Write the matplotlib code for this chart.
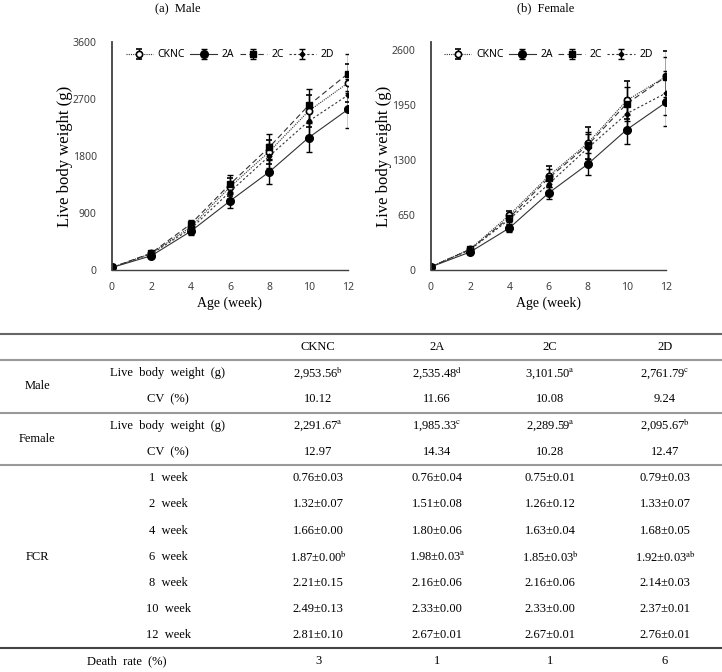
import numpy as np
import matplotlib.pyplot as plt

plt.rcParams['mathtext.fontset'] = 'stix'

# ---- chart data ----
weeks = [0, 2, 4, 6, 8, 10, 12]
groups = ['CKNC', '2A', '2C', '2D']

male_cknc = [40, 262, 680, 1310, 1870, 2510, 2953.56]
male_2a = [40, 225, 610, 1090, 1550, 2090, 2535.48]
male_2c = [40, 268, 725, 1355, 1940, 2600, 3101.50]
male_2d = [40, 255, 650, 1235, 1800, 2350, 2761.79]
male_cknc_sd = [3, 20, 60, 135, 190, 250, 299]
male_2a_sd = [3, 20, 60, 115, 195, 230, 296]
male_2c_sd = [3, 20, 60, 145, 205, 260, 313]
male_2d_sd = [3, 20, 60, 125, 185, 240, 255]

female_cknc = [38, 248, 650, 1111, 1501, 2009, 2291.67]
female_2a = [38, 213, 497, 910, 1253, 1663, 1985.33]
female_2c = [38, 245, 620, 1087, 1478, 1970, 2289.59]
female_2d = [38, 240, 600, 1016, 1442, 1852, 2095.67]
female_cknc_sd = [3, 20, 50, 118, 189, 225, 297]
female_2a_sd = [3, 20, 45, 71, 130, 174, 285]
female_2c_sd = [3, 20, 50, 110, 160, 200, 235]
female_2d_sd = [3, 20, 50, 100, 170, 190, 261]

# ---- table data ----
table_cols = ['CKNC', '2A', '2C', '2D']
male_bw = [r'2,953.56$^{\mathrm{b}}$', r'2,535.48$^{\mathrm{d}}$',
           r'3,101.50$^{\mathrm{a}}$', r'2,761.79$^{\mathrm{c}}$']
male_cv = ['10.12', '11.66', '10.08', '9.24']
female_bw = [r'2,291.67$^{\mathrm{a}}$', r'1,985.33$^{\mathrm{c}}$',
             r'2,289.59$^{\mathrm{a}}$', r'2,095.67$^{\mathrm{b}}$']
female_cv = ['12.97', '14.34', '10.28', '12.47']
fcr_weeks = ['1  week', '2  week', '4  week', '6  week', '8  week', '10  week', '12  week']
fcr = [
    ['0.76±0.03', '0.76±0.04', '0.75±0.01', '0.79±0.03'],
    ['1.32±0.07', '1.51±0.08', '1.26±0.12', '1.33±0.07'],
    ['1.66±0.00', '1.80±0.06', '1.63±0.04', '1.68±0.05'],
    [r'1.87±0.00$^{\mathrm{b}}$', r'1.98±0.03$^{\mathrm{a}}$',
     r'1.85±0.03$^{\mathrm{b}}$', r'1.92±0.03$^{\mathrm{ab}}$'],
    ['2.21±0.15', '2.16±0.06', '2.16±0.06', '2.14±0.03'],
    ['2.49±0.13', '2.33±0.00', '2.33±0.00', '2.37±0.01'],
    ['2.81±0.10', '2.67±0.01', '2.67±0.01', '2.76±0.01'],
]
death_rate = ['3', '1', '1', '6']

serif = 'Liberation Serif'
sans = 'Noto Sans'

styles = [
    dict(ls=(0, (1, 1)), marker='o', mfc='white', ms=4.5, mew=1.2),
    dict(ls='-', marker='o', mfc='black', ms=5.5),
    dict(ls=(0, (5, 3)), marker='s', mfc='black', ms=5),
    dict(ls=(0, (2, 2)), marker='D', mfc='black', ms=2.5),
]

fig = plt.figure(figsize=(7.22, 6.72), dpi=100)


def growth_panel(rect, series, sds, ymax, ystep, title, title_x):
    ax = fig.add_axes(rect)
    for name, vals, sd, st in zip(groups, series, sds, styles):
        ax.errorbar(weeks, vals, yerr=sd, color='#333333', lw=0.8,
                    mec='black', ecolor='black', elinewidth=1.0,
                    capsize=2.5, capthick=1.0, label=name, **st)
    ax.set_xlim(0, 12)
    ax.set_ylim(0, ymax)
    ax.set_xticks(weeks)
    ax.set_yticks(np.arange(0, ymax + 1, ystep))
    for s in ['top', 'right']:
        ax.spines[s].set_visible(False)
    for s in ['left', 'bottom']:
        ax.spines[s].set_color('#404040')
    ax.spines['left'].set_linewidth(1.3)
    ax.spines['bottom'].set_linewidth(1.0)
    ax.tick_params(length=0, labelsize=7.5, colors='#404040')
    ax.tick_params(axis='y', pad=11)
    ax.tick_params(axis='x', pad=9)
    for lab in ax.get_xticklabels() + ax.get_yticklabels():
        lab.set_family(sans)
    ax.set_xlabel('Age (week)', family=serif, fontsize=10, labelpad=2)
    ax.set_ylabel('Live body weight (g)', family=serif, fontsize=12, labelpad=0)
    fig.text(title_x / 722, 1 - 8 / 672, title, ha='center', va='center',
             family=serif, fontsize=9)
    ax.legend(loc='upper center', bbox_to_anchor=(0.5, 0.995), ncol=4,
              frameon=False, prop={'family': sans, 'size': 7.5},
              handlelength=2.6, handletextpad=0.45, columnspacing=0.5,
              borderaxespad=0.2)
    return ax


growth_panel([112 / 722, 1 - 270 / 672, 236 / 722, 228 / 672],
             [male_cknc, male_2a, male_2c, male_2d],
             [male_cknc_sd, male_2a_sd, male_2c_sd, male_2d_sd],
             3600, 900, '(a)  Male', 178)
growth_panel([431 / 722, 1 - 270 / 672, 235 / 722, 228 / 672],
             [female_cknc, female_2a, female_2c, female_2d],
             [female_cknc_sd, female_2a_sd, female_2c_sd, female_2d_sd],
             2700, 650, '(b)  Female', 546)

# ---- table drawn in pixel space ----
tab = fig.add_axes([0, 0, 1, 1])
tab.set_xlim(0, 722)
tab.set_ylim(672, 0)
tab.axis('off')

top = 334
rh = 26.2
col_x = [318, 437, 550, 665]
grp_x = 37
sub_x = 168


def row_y(i):
    return top + rh * (i + 0.5)


def cell(x, y, s):
    tab.text(x, y, s, ha='center', va='center', family=serif, fontsize=9)


def hline(i, color, lw=1.5):
    tab.axhline(top + rh * i, color=color, lw=lw)


hline(0, '#666666')
hline(1, '#999999')
hline(3, '#999999')
hline(5, '#999999')
hline(12, '#444444')

for x, c in zip(col_x, table_cols):
    cell(x, row_y(0), c)

blocks = [('Male', male_bw, male_cv, 1), ('Female', female_bw, female_cv, 3)]
for name, bw, cv, r in blocks:
    cell(grp_x, top + rh * (r + 1), name)
    cell(sub_x, row_y(r), 'Live  body  weight  (g)')
    cell(sub_x, row_y(r + 1), 'CV  (%)')
    for x, a, b in zip(col_x, bw, cv):
        cell(x, row_y(r), a)
        cell(x, row_y(r + 1), b)

cell(grp_x, row_y(5 + 3), 'FCR')
for k, (wk, vals) in enumerate(zip(fcr_weeks, fcr)):
    cell(sub_x, row_y(5 + k), wk)
    for x, v in zip(col_x, vals):
        cell(x, row_y(5 + k), v)

cell(127, row_y(12), 'Death  rate  (%)')
for x, v in zip(col_x, death_rate):
    cell(x, row_y(12), v)

fig.savefig('out.png', dpi=100)
